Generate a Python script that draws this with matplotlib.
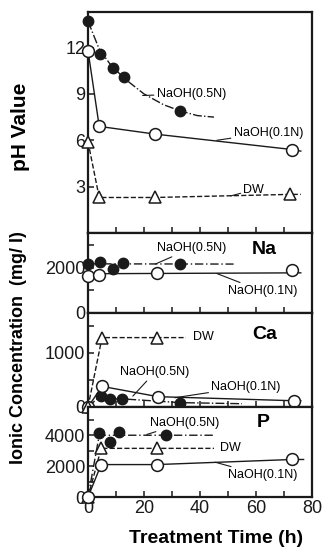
import matplotlib.pyplot as plt
from matplotlib.ticker import MultipleLocator

plt.rcParams['font.family'] = ['Liberation Sans', 'DejaVu Sans']

# pH panel
ph05_t = [0, 4.3, 9, 13, 33]
ph05 = [13.7, 11.6, 10.7, 10.1, 7.9]
ph05_fit_t = [0, 4, 8, 13, 20, 27, 33, 39, 45]
ph05_fit = [13.7, 11.9, 10.9, 10.0, 9.0, 8.3, 7.9, 7.6, 7.5]
ph01_t = [0, 4, 24, 73]
ph01 = [11.8, 6.9, 6.4, 5.4]
ph01_end = [76, 5.3]
phdw_t = [0, 4, 24, 72]
phdw = [5.9, 2.3, 2.3, 2.5]
phdw_end = [76, 2.5]

# Na panel
na05_t = [0, 4.3, 9, 12.6, 33]
na05 = [2180, 2270, 1960, 2220, 2180]
na05_fit_t = [0, 52]
na05_fit = [2180, 2170]
na01_t = [0, 4, 24.5, 73]
na01 = [1640, 1690, 1780, 1910]
na01_fit_t = [0, 76]
na01_fit = [1740, 1780]

# Ca panel
ca05_t = [0, 4.5, 8, 12, 33]
ca05 = [0, 210, 150, 150, 80]
ca05_end = [55, 60]
ca01_t = [0, 5, 25, 73.5]
ca01 = [0, 380, 190, 115]
ca01_end = [76, 115]
cadw_t = [0, 5, 24.5]
cadw = [0, 1280, 1280]
cadw_end = [35, 1280]

# P panel
p05_t = [0, 4, 8, 11, 28]
p05 = [0, 4130, 3540, 4200, 4000]
p05_fit_t = [0, 4, 45]
p05_fit = [0, 4000, 4000]
pdw_t = [0, 4.7, 24.5]
pdw = [0, 3150, 3150]
pdw_end = [45, 3150]
p01_t = [0, 4.7, 24.5, 73]
p01 = [0, 2100, 2100, 2430]
p01_end = [77, 2430]

fig = plt.figure(figsize=(3.26, 5.47), dpi=100)
L, W = 0.27, 0.687
ax_ph = fig.add_axes([L, 0.574, W, 0.404])
ax_na = fig.add_axes([L, 0.428, W, 0.146])
ax_ca = fig.add_axes([L, 0.256, W, 0.172])
ax_p = fig.add_axes([L, 0.0914, W, 0.1646])

black = '#1a1a1a'
ms_open = 8.5
ms_fill = 7.5
ms_tri = 8

def filled(ax, t, v):
    ax.plot(t, v, 'o', color=black, ms=ms_fill, clip_on=False, zorder=4)

def opened(ax, t, v):
    ax.plot(t, v, 'o', mfc='white', mec=black, mew=1.1, ms=ms_open, clip_on=False, zorder=5)

def tri(ax, t, v):
    ax.plot(t, v, '^', mfc='white', mec=black, mew=1.1, ms=ms_tri, clip_on=False, zorder=5)

def label(ax, txt, xy, xytext):
    ax.annotate(txt, xy=xy, xytext=xytext, fontsize=9, va='center', ha='left',
                arrowprops=dict(arrowstyle='-', lw=0.8, color=black, shrinkA=0, shrinkB=0))

# pH
ax_ph.plot(ph05_fit_t, ph05_fit, color=black, lw=1, ls='-.')
filled(ax_ph, ph05_t, ph05)
ax_ph.plot(ph01_t + [ph01_end[0]], ph01 + [ph01_end[1]], color=black, lw=1)
opened(ax_ph, ph01_t, ph01)
ax_ph.plot(phdw_t + [phdw_end[0]], phdw + [phdw_end[1]], color=black, lw=1, ls='--')
tri(ax_ph, phdw_t, phdw)
ax_ph.set_ylim(0, 14.3)
ax_ph.set_yticks([3, 6, 9, 12])
label(ax_ph, 'NaOH(0.5N)', (19.5, 8.9), (24.5, 9.0))
label(ax_ph, 'NaOH(0.1N)', (46, 6.0), (52, 6.5))
label(ax_ph, 'DW', (51, 2.4), (55.5, 2.8))

# Na
ax_na.plot(na05_fit_t, na05_fit, color=black, lw=1, ls=(0, (6, 2, 1, 2)))
filled(ax_na, na05_t, na05)
ax_na.plot(na01_fit_t, na01_fit, color=black, lw=1)
opened(ax_na, na01_t, na01)
ax_na.set_ylim(0, 3550)
ax_na.set_yticks([0, 2000])
ax_na.yaxis.set_minor_locator(MultipleLocator(1000))
label(ax_na, 'NaOH(0.5N)', (24, 2170), (24.8, 2880))
label(ax_na, 'NaOH(0.1N)', (46, 1750), (50, 960))
ax_na.text(63, 2800, 'Na', fontsize=14, fontweight='bold', ha='center', va='center')

# Ca
ax_ca.plot(ca05_t + [ca05_end[0]], ca05 + [ca05_end[1]], color=black, lw=1, ls='-.')
filled(ax_ca, ca05_t, ca05)
ax_ca.plot(ca01_t + [ca01_end[0]], ca01 + [ca01_end[1]], color=black, lw=1)
opened(ax_ca, ca01_t, ca01)
ax_ca.plot(cadw_t + [cadw_end[0]], cadw + [cadw_end[1]], color=black, lw=1, ls='--')
tri(ax_ca, cadw_t, cadw)
ax_ca.set_ylim(0, 1736)
ax_ca.set_yticks([0, 1000])
ax_ca.yaxis.set_minor_locator(MultipleLocator(500))
ax_ca.text(37.5, 1300, 'DW', fontsize=9, ha='left', va='center')
label(ax_ca, 'NaOH(0.5N)', (16, 200), (11.5, 640))
label(ax_ca, 'NaOH(0.1N)', (31, 170), (44, 370))
ax_ca.text(63, 1330, 'Ca', fontsize=14, fontweight='bold', ha='center', va='center')

# P
ax_p.plot(p05_fit_t, p05_fit, color=black, lw=1, ls=(0, (6, 2, 1, 2)))
filled(ax_p, p05_t, p05)
ax_p.plot(pdw_t + [pdw_end[0]], pdw + [pdw_end[1]], color=black, lw=1, ls='--')
tri(ax_p, pdw_t, pdw)
ax_p.plot(p01_t + [p01_end[0]], p01 + [p01_end[1]], color=black, lw=1)
opened(ax_p, p01_t, p01)
ax_p.set_ylim(0, 5830)
ax_p.set_yticks([0, 2000, 4000])
ax_p.yaxis.set_minor_locator(MultipleLocator(1000))
label(ax_p, 'NaOH(0.5N)', (21, 4050), (22, 4800))
ax_p.text(47, 3150, 'DW', fontsize=9, ha='left', va='center')
label(ax_p, 'NaOH(0.1N)', (45.5, 2250), (50, 1400))
ax_p.text(62.5, 4800, 'P', fontsize=14, fontweight='bold', ha='center', va='center')
ax_p.set_xticks([0, 20, 40, 60, 80])

for ax in [ax_ph, ax_na, ax_ca, ax_p]:
    ax.set_xlim(0, 80)
    ax.xaxis.set_minor_locator(MultipleLocator(10))
    for s in ax.spines.values():
        s.set_linewidth(1.6)
        s.set_color(black)
    ax.tick_params(axis='both', which='both', direction='in', length=4, width=1.1,
                   labelsize=13, top=False, right=False, colors=black, pad=2)
    if ax is not ax_p:
        ax.tick_params(axis='x', labelbottom=False)

fig.text(0.662, 0.016, 'Treatment Time (h)', fontsize=14, fontweight='bold',
         ha='center', va='center')
fig.text(0.062, 0.768, 'pH Value', rotation=90, fontsize=15, fontweight='bold',
         ha='center', va='center')
fig.text(0.056, 0.364, 'Ionic Concentration  (mg/ l)', rotation=90, fontsize=13,
         fontweight='bold', ha='center', va='center')

fig.savefig('out.png', dpi=100)
